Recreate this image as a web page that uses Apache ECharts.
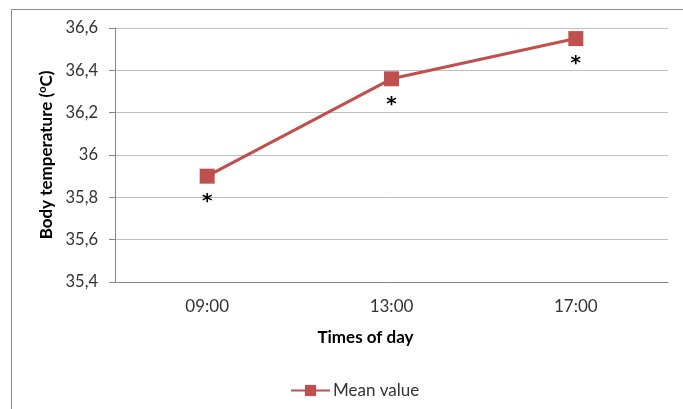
<!DOCTYPE html>
<html>
<head>
<meta charset="utf-8">
<script src="https://cdn.jsdelivr.net/npm/echarts@6/dist/echarts.min.js"></script>
<style>html,body{margin:0;padding:0;background:#fff;}#c{width:683px;height:409px;}</style>
</head>
<body>
<div id="c"></div>
<script>
var categories = ['09:00', '13:00', '17:00'];
var meanValues = [35.9, 36.36, 36.55];
var significance = ['*', '*', '*'];
var yTicks = [35.4, 35.6, 35.8, 36.0, 36.2, 36.4, 36.6];
var seriesName = 'Mean value';
var xTitle = 'Times of day';

var chart = echarts.init(document.getElementById('c'));
var font = 'Lato, "Open Sans", sans-serif';
chart.setOption({
  animation: false,
  graphic: [{
    type: 'rect', left: 9, top: 7, shape: {width: 690, height: 420},
    style: {fill: 'none', stroke: '#8c8c8c', lineWidth: 1}, silent: true, z: -1
  }],
  grid: {left: 115, right: 15, top: 28, bottom: 127, containLabel: false},
  xAxis: {
    type: 'category', data: categories, boundaryGap: true,
    name: xTitle, nameLocation: 'middle', nameGap: 47,
    nameTextStyle: {fontFamily: font, fontSize: 17, fontWeight: 'bold', color: '#000', padding: [0, 52, 0, 0]},
    axisLine: {lineStyle: {color: '#868686'}},
    axisTick: {show: false},
    axisLabel: {fontFamily: font, fontSize: 17, color: '#333', margin: 16}
  },
  yAxis: {
    type: 'value', min: yTicks[0], max: yTicks[yTicks.length - 1], interval: 0.2,
    name: 'Body temperature ({s|o}C)', nameLocation: 'middle', nameGap: 58, nameRotate: 90,
    nameTextStyle: {fontFamily: font, fontSize: 17, fontWeight: 'bold', color: '#000',
      rich: {s: {fontFamily: font, fontSize: 11, fontWeight: 'bold', color: '#000', verticalAlign: 'top', padding: [0, 0, 7, 0]}}},
    axisLine: {show: true, lineStyle: {color: '#868686'}},
    axisTick: {show: true, length: 6, lineStyle: {color: '#868686'}},
    splitLine: {lineStyle: {color: '#bfbfbf'}},
    axisLabel: {fontFamily: font, fontSize: 16.5, color: '#333', margin: 17,
      formatter: function (v) {
        var t = yTicks.reduce(function (a, b) { return Math.abs(b - v) < Math.abs(a - v) ? b : a; });
        return String(+t.toFixed(1)).replace('.', ',');
      }}
  },
  legend: {
    data: [seriesName], left: 285, top: 377, itemWidth: 39, itemHeight: 14, itemGap: 4,
    textStyle: {fontFamily: font, fontSize: 17, color: '#333', padding: [0, 0, 0, -2]}
  },
  series: [{
    name: seriesName, type: 'line', data: meanValues,
    symbol: 'rect', symbolSize: 15,
    lineStyle: {color: '#c0504d', width: 3},
    itemStyle: {color: '#c0504d'},
    label: {
      show: true, position: 'bottom', distance: 8,
      formatter: function (p) { return significance[p.dataIndex]; },
      fontFamily: '"DejaVu Sans", sans-serif', fontSize: 20, fontWeight: 'bold', color: '#000'
    }
  }]
});
</script>
</body>
</html>
